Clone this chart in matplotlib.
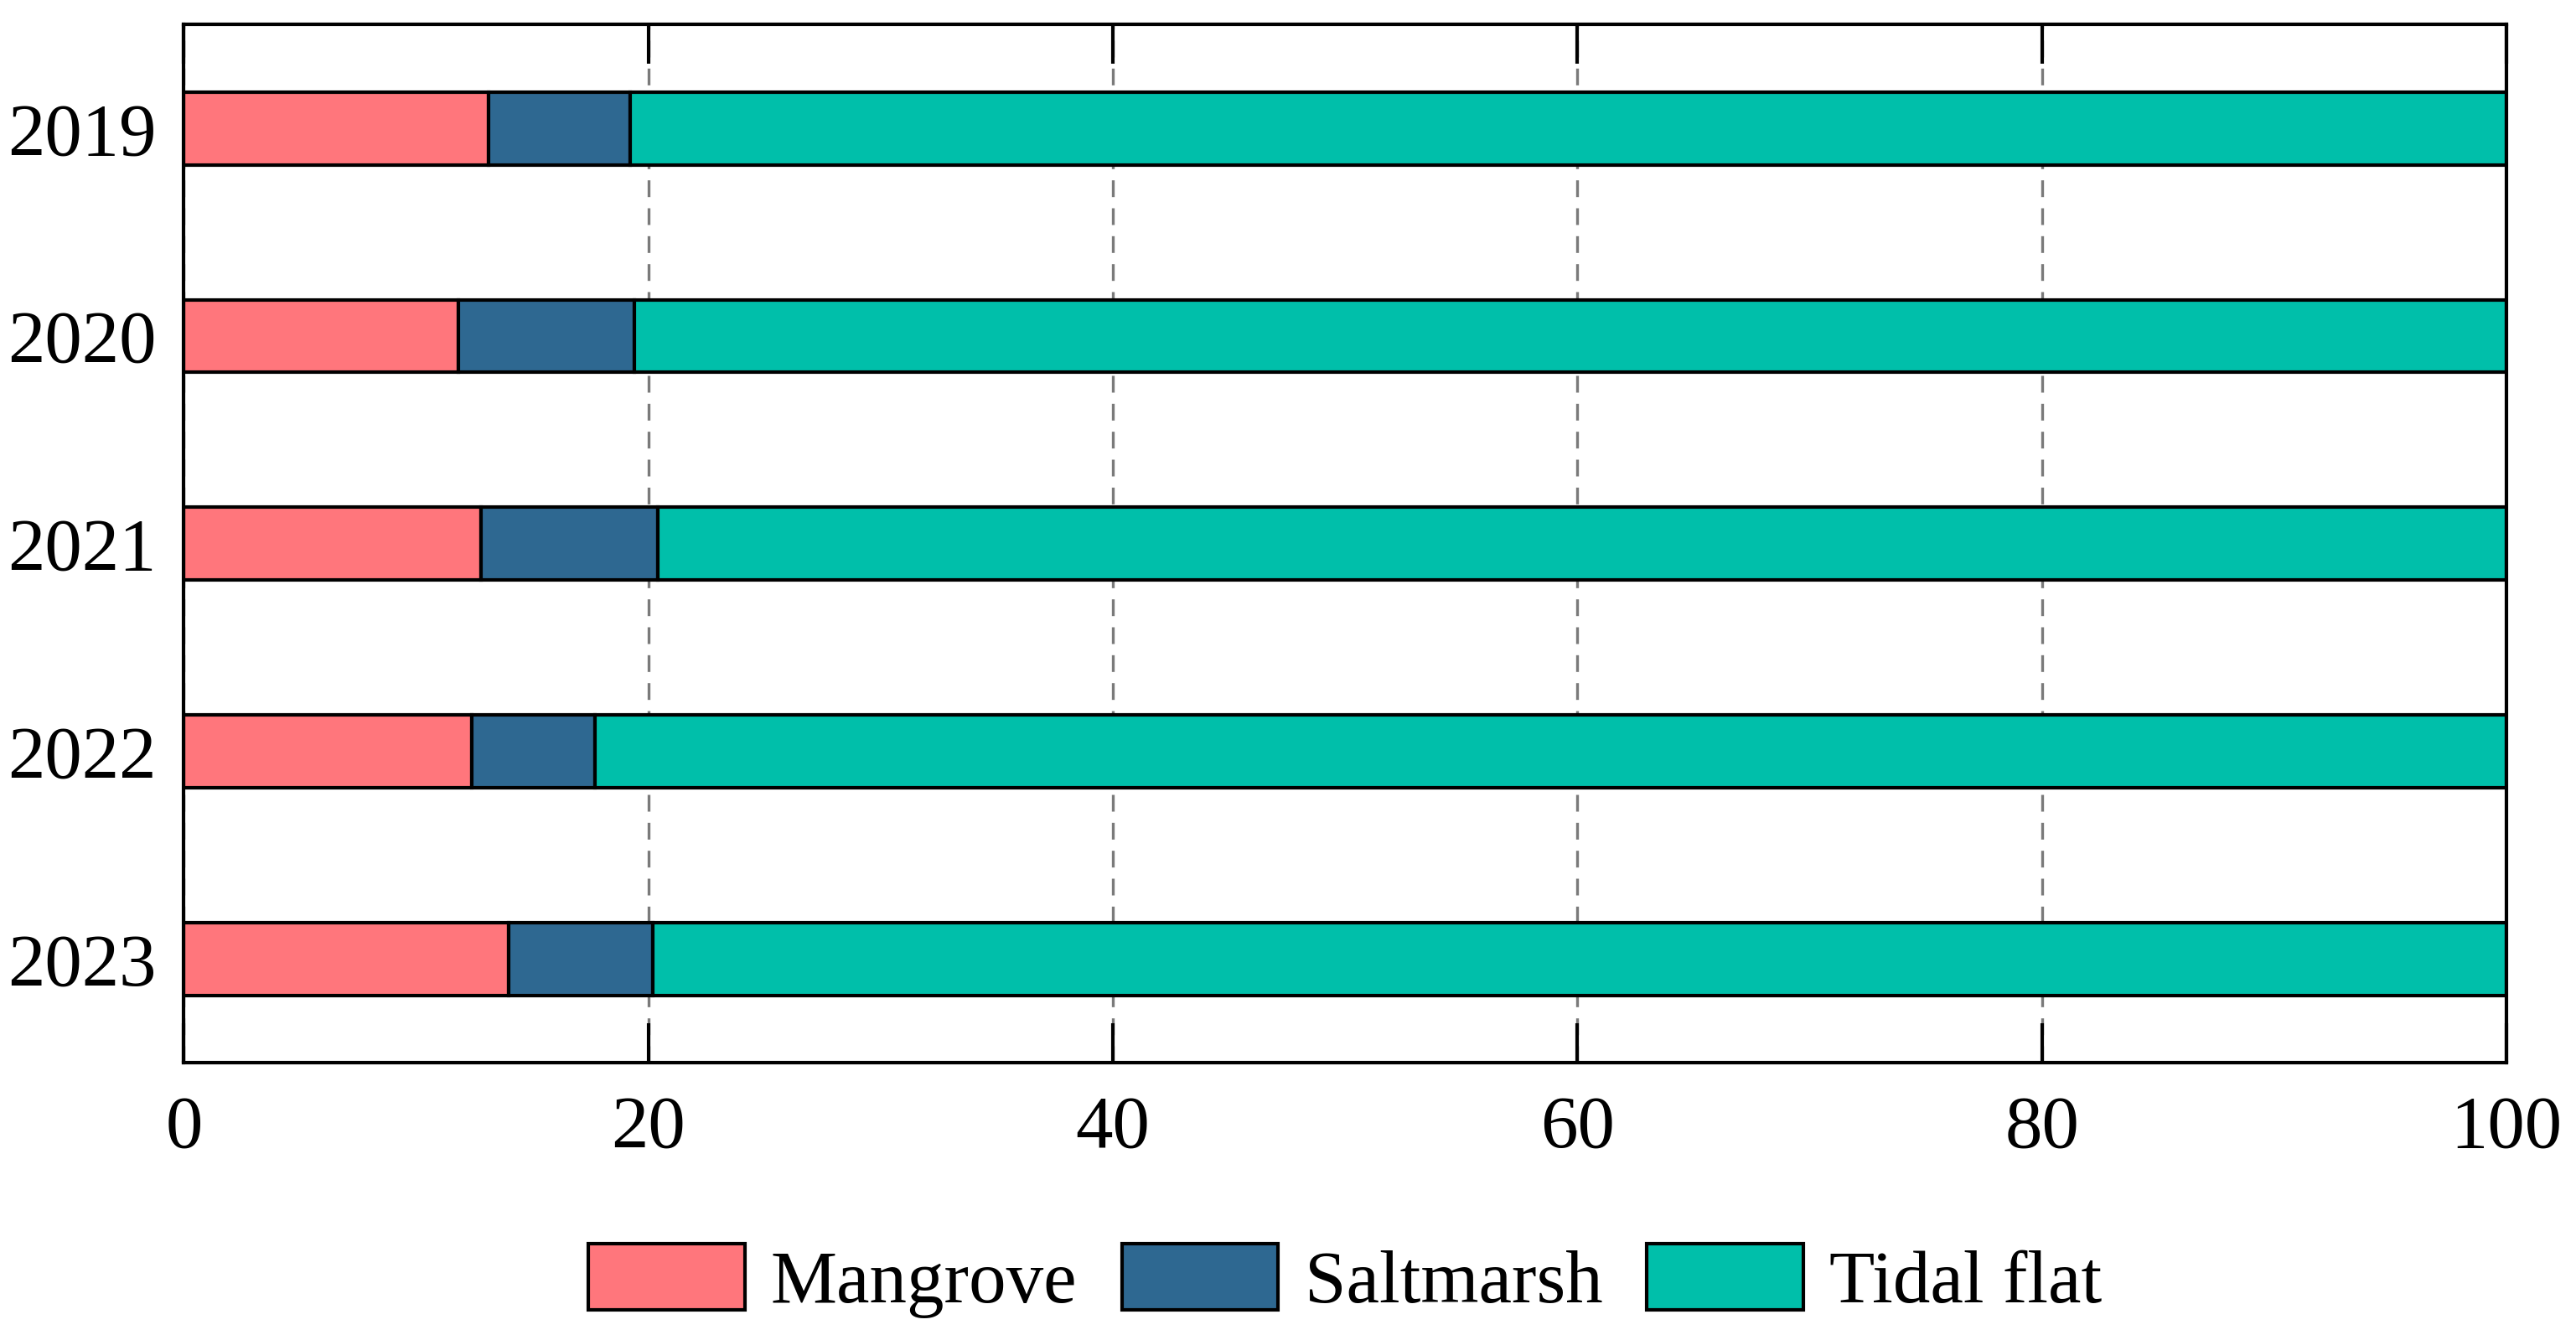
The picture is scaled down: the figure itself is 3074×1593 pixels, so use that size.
import matplotlib.pyplot as plt
import numpy as np

plt.rcParams['font.family'] = ['Liberation Serif', 'DejaVu Serif']

years = ['2019', '2020', '2021', '2022', '2023']
mangrove = [13.1, 11.8, 12.8, 12.4, 14.0]
saltmarsh = [6.1, 7.6, 7.6, 5.3, 6.2]
tidal_flat = [80.8, 80.6, 79.6, 82.3, 79.8]

names = ['Mangrove', 'Saltmarsh', 'Tidal flat']
colors = ['#FF767C', '#2E6891', '#00BFAA']

fig = plt.figure(figsize=(15.37, 7.965), dpi=200)
ax = fig.add_axes([0.0714, 0.204, 0.9016, 0.7776])

y = np.arange(len(years))
left = np.zeros(len(years))
for vals, name, c in zip([mangrove, saltmarsh, tidal_flat], names, colors):
    ax.barh(y, vals, left=left, height=0.35, color=c, edgecolor='black',
            linewidth=1.5, label=name, zorder=3)
    left += np.array(vals)

ax.set_xlim(0, 100)
ax.set_ylim(4.5, -0.5)
ax.set_yticks(y)
ax.set_yticklabels(years)
ax.set_xticks([0, 20, 40, 60, 80, 100])

ax.grid(axis='x', linestyle=(0, (6, 4)), color='#7a7a7a', linewidth=1.2, zorder=0)
for s in ax.spines.values():
    s.set_linewidth(1.5)
    s.set_zorder(4)

ax.tick_params(axis='x', direction='in', top=True, bottom=True, length=17,
               width=1.5, labelsize=32, pad=14)
ax.tick_params(axis='y', length=0, labelsize=32, pad=12)

ax.legend(loc='center', bbox_to_anchor=(0.5, -0.21), ncol=3, frameon=False,
          fontsize=32, handlelength=2.1, handleheight=1.0, handletextpad=0.35,
          columnspacing=0.6, borderaxespad=0)

fig.savefig('out.png')
